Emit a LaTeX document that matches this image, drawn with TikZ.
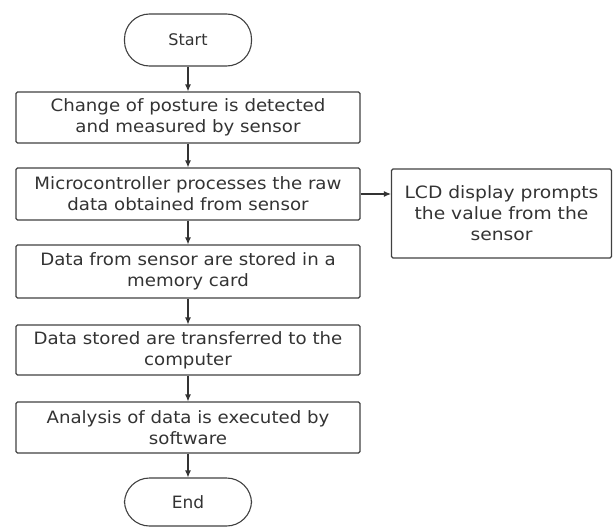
\documentclass[tikz,border=0pt]{standalone}
\usepackage{fontspec}
\setmainfont{DejaVu Sans}
\newfontfamily\boxfont[FakeStretch=1.07]{DejaVu Sans}
\newfontfamily\lcdfont[FakeStretch=1.1]{DejaVu Sans}
\usetikzlibrary{arrows.meta}
\begin{document}
\begin{tikzpicture}[x=1pt,y=-1pt,
  every node/.style={text=black!80, align=center},
  procbox/.style={draw=black!75, line width=1.1pt, rounded corners=1.5pt, minimum width=344pt, inner sep=0pt, font=\boxfont\fontsize{17}{21}\selectfont},
  termbox/.style={draw=black!75, line width=1.1pt, rounded corners=25pt, minimum width=127pt, inner sep=0pt, font=\fontsize{16}{21}\selectfont},
  flow/.style={draw=black!80, line width=1.1pt, -{Latex[length=7pt,width=6pt]}}]
\useasboundingbox (0,0) rectangle (613,527);
\node[termbox, minimum height=52pt] (start) at (188,40) {Start};
\node[procbox, minimum height=51pt] (b1) at (188,117.5) {Change of posture is detected\\and measured by sensor};
\node[procbox, minimum height=52pt] (b2) at (188,194) {Microcontroller processes the raw\\data obtained from sensor};
\node[procbox, minimum height=53pt] (b3) at (188,271.5) {Data from sensor are stored in a\\memory card};
\node[procbox, minimum height=50pt] (b4) at (188,350) {Data stored are transferred to the\\computer};
\node[procbox, minimum height=51pt] (b5) at (188,427.5) {Analysis of data is executed by\\software};
\node[termbox, minimum height=48pt, font=\fontsize{17}{21}\selectfont] (end) at (188,502) {End};
\node[draw=black!75, line width=1.1pt, rounded corners=1.5pt, minimum width=220pt, minimum height=89pt, inner sep=0pt, font=\lcdfont\fontsize{17}{21}\selectfont] (lcd) at (501.5,213.5) {LCD display prompts\\the value from the\\sensor};
\draw[flow] (start) -- (b1);
\draw[flow] (b1) -- (b2);
\draw[flow] (b2) -- (b3);
\draw[flow] (b3) -- (b4);
\draw[flow] (b4) -- (b5);
\draw[flow] (b5) -- (end);
\draw[flow] (b2.east) -- (b2.east -| lcd.west);
\end{tikzpicture}
\end{document}
